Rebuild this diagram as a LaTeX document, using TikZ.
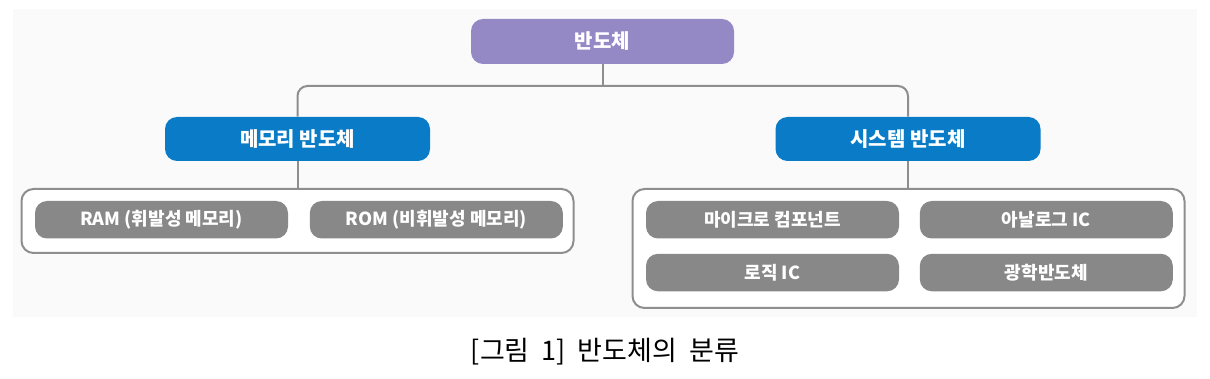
\documentclass[tikz,border=0pt]{standalone}
\usepackage{fontspec}
\usetikzlibrary{positioning}
\newfontfamily\kr{Noto Sans CJK KR}
\definecolor{semi}{HTML}{9489C5}
\definecolor{cat}{HTML}{0A7BC6}
\definecolor{item}{HTML}{888888}
\definecolor{ln}{HTML}{8E8E8E}
\definecolor{panel}{HTML}{FAFAFA}
\tikzset{
  topbox/.style={fill=semi,rounded corners=6pt,minimum width=131.5pt,minimum height=22.5pt,inner sep=0pt,text=white,font=\kr\bfseries\fontsize{10}{12}\selectfont},
  catbox/.style={topbox,fill=cat,minimum width=132.5pt,minimum height=22pt},
  itembox/.style={fill=item,rounded corners=6pt,minimum width=126.5pt,minimum height=18.75pt,inner sep=0pt,text=white,font=\kr\bfseries\fontsize{9}{11}\selectfont},
  grpbox/.style={draw=ln,line width=1pt,fill=white,rounded corners=6pt,inner sep=0pt},
  conn/.style={draw=ln,line width=1pt,rounded corners=5pt},
}

\begin{document}
\begin{tikzpicture}[x=0.5pt,y=-0.5pt]
\useasboundingbox (0,0) rectangle (1210,379);
\fill[panel] (13,9) rectangle (1197,317);
% tree
\node[topbox] (semi) at (602.5,41.5) {반도체};
\node[catbox] (mem) at (297.5,139) {메모리 반도체};
\node[catbox] (sys) at (908,139) {시스템 반도체};
\coordinate (bus) at (602.5,86);
\draw[conn] (semi.south) -- (bus);
\draw[conn] (mem.north) -- (mem.north |- bus) -- (sys.north |- bus) -- (sys.north);
% groups
\node[grpbox,minimum width=276pt,minimum height=32pt] (lgrp) at (297.5,221) {};
\node[grpbox,minimum width=276pt,minimum height=59.5pt] (rgrp) at (908.5,248.5) {};
\draw[conn] (mem.south) -- (mem.south |- lgrp.north);
\draw[conn] (sys.south) -- (sys.south |- rgrp.north);
\node[itembox] (ram) at (161.5,219.75) {RAM (휘발성 메모리)};
\node[itembox,right=10.5pt of ram] (rom) {ROM (비휘발성 메모리)};
\node[itembox] (mcu) at (772.5,219.75) {마이크로 컴포넌트};
\node[itembox,right=10pt of mcu] (analog) {아날로그 IC};
\node[itembox,below=7.25pt of mcu] (logic) {로직 IC};
\node[itembox,below=7.25pt of analog] (optic) {광학반도체};
% caption
\node[font=\kr\fontsize{13.5}{16}\selectfont] (cap) at (605,352) {[그림\ \ 1]\ \ 반도체의\ \ 분류};
\end{tikzpicture}
\end{document}
